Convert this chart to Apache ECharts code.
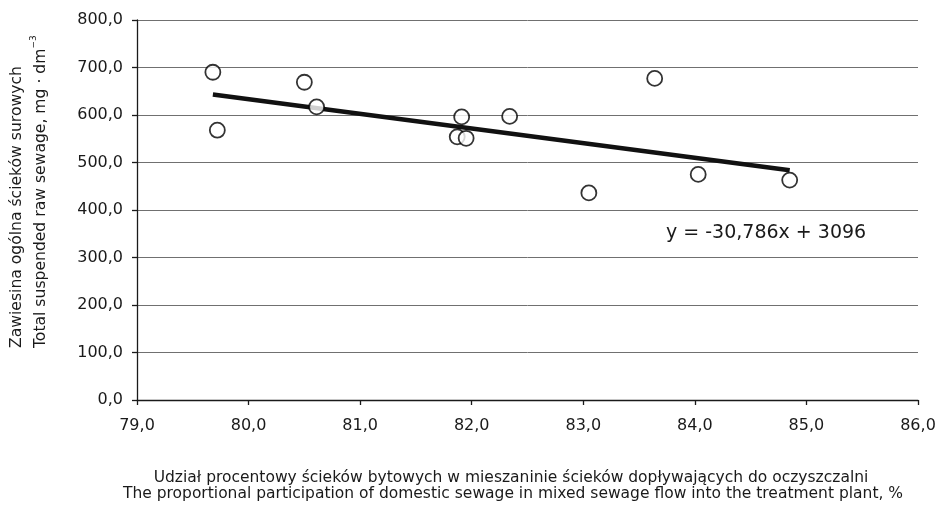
<!DOCTYPE html>
<html>
<head>
<meta charset="utf-8">
<script src="https://cdn.jsdelivr.net/npm/echarts@6/dist/echarts.min.js"></script>
<style>
html,body{margin:0;padding:0;background:#fff;}
#chart{width:940px;height:509px;}
</style>
</head>
<body>
<div id="chart"></div>
<script>
// Data
var shareDomestic = [79.68, 79.72, 80.50, 80.61, 81.87, 81.91, 81.95, 82.34, 83.05, 83.64, 84.03, 84.85];
var suspendedSolids = [690, 568, 669, 617, 554, 596, 551, 597, 436, 677, 475, 463];
var trendSlope = -30.786;
var trendIntercept = 3096;
var equationText = 'y = -30,786x + 3096';
var xTitle = ['Udział procentowy ścieków bytowych w mieszaninie ścieków dopływających do oczyszczalni',
              'The proportional participation of domestic sewage in mixed sewage flow into the treatment plant, %'];
var yTitle1 = 'Zawiesina ogólna ścieków surowych';
var yTitle2 = 'Total suspended raw sewage, mg · dm';
var yTitleSup = '−3';

var points = shareDomestic.map(function (x, i) { return [x, suspendedSolids[i]]; });
var xMin = Math.min.apply(null, shareDomestic);
var xMax = Math.max.apply(null, shareDomestic);
var trend = [[xMin, trendSlope * xMin + trendIntercept], [xMax, trendSlope * xMax + trendIntercept]];

var FONT = '"DejaVu Sans", "Liberation Sans", Arial, sans-serif';
function comma(v) { return v.toFixed(1).replace('.', ','); }

var chart = echarts.init(document.getElementById('chart'), null, { renderer: 'canvas' });
chart.setOption({
  backgroundColor: '#ffffff',
  animation: false,
  grid: { left: 137, right: 22, top: 20, bottom: 109, containLabel: false },
  xAxis: {
    type: 'value', min: 79, max: 86, interval: 1,
    axisLine: { show: true, onZero: false, lineStyle: { color: '#1a1a1a', width: 1.3 } },
    axisTick: { show: true, length: 5, lineStyle: { color: '#1a1a1a', width: 1.3 } },
    axisLabel: { margin: 18, fontSize: 16, color: '#1a1a1a', fontFamily: FONT, formatter: comma },
    splitLine: { show: false }
  },
  yAxis: {
    type: 'value', min: 0, max: 800, interval: 100,
    axisLine: { show: true, lineStyle: { color: '#1a1a1a', width: 1.3 } },
    axisTick: { show: true, length: 5, lineStyle: { color: '#1a1a1a', width: 1.3 } },
    axisLabel: { margin: 14, fontSize: 16, color: '#1a1a1a', fontFamily: FONT, formatter: comma },
    splitLine: { show: true, lineStyle: { color: '#707070', width: 1 } }
  },
  series: [
    {
      type: 'line', data: trend, symbol: 'none', z: 2,
      lineStyle: { color: '#111111', width: 4.5 }
    },
    {
      type: 'scatter', data: points, symbol: 'circle', symbolSize: 15, z: 3,
      itemStyle: { color: '#ffffff', borderColor: '#000000', borderWidth: 1.8 }
    }
  ],
  graphic: [
    { type: 'text', x: 666, y: 233, style: { text: equationText, font: '19px ' + FONT, fill: '#1a1a1a', textAlign: 'left', textVerticalAlign: 'middle' } },
    { type: 'text', x: 511, y: 478, style: { text: xTitle[0], font: '15.5px ' + FONT, fill: '#1a1a1a', textAlign: 'center', textVerticalAlign: 'middle' } },
    { type: 'text', x: 513, y: 494, style: { text: xTitle[1], font: '15.5px ' + FONT, fill: '#1a1a1a', textAlign: 'center', textVerticalAlign: 'middle' } },
    { type: 'text', x: 17, y: 348, rotation: Math.PI / 2, style: { text: yTitle1, font: '15.6px ' + FONT, fill: '#1a1a1a', textAlign: 'left', textVerticalAlign: 'middle' } },
    { type: 'text', x: 39, y: 348, rotation: Math.PI / 2, style: {
        text: '{a|' + yTitle2 + '}{s|' + yTitleSup + '}',
        fill: '#1a1a1a', textAlign: 'left', textVerticalAlign: 'middle',
        rich: {
          a: { fontSize: 15.6, fontFamily: FONT, lineHeight: 20, verticalAlign: 'bottom', fill: '#1a1a1a' },
          s: { fontSize: 9, fontFamily: FONT, lineHeight: 20, verticalAlign: 'top', fill: '#1a1a1a' }
        }
      } }
  ]
});
</script>
</body>
</html>
